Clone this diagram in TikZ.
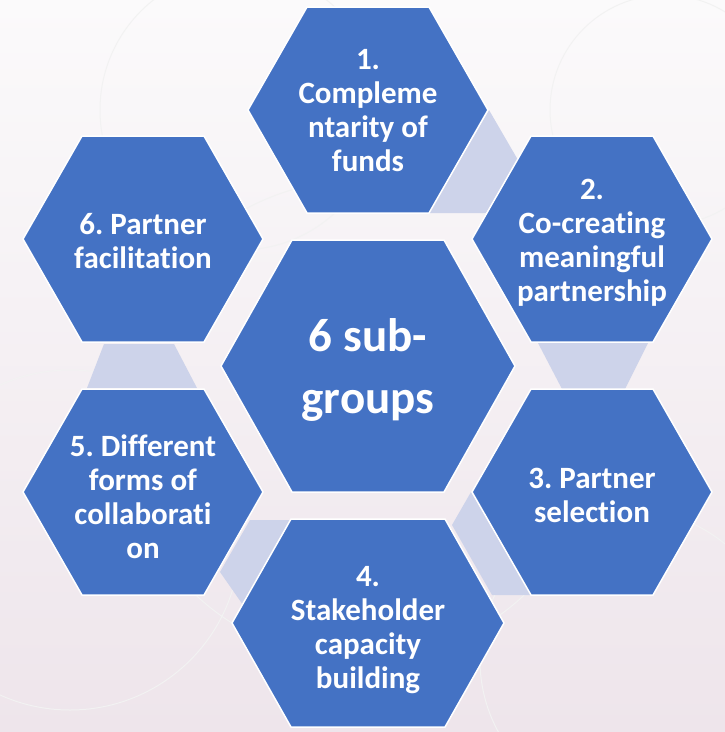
\documentclass[tikz,border=0pt]{standalone}
\usepackage{fontspec}
\setmainfont{Carlito}[RawFeature={-liga;-clig}]
\usepackage{xcolor}
\frenchspacing

\definecolor{hexblue}{HTML}{4472C4}
\definecolor{bridgelav}{HTML}{CDD3EA}
\definecolor{bgtop}{HTML}{FBFAFB}
\definecolor{bgbot}{HTML}{EEE5EB}

\begin{document}
\begin{tikzpicture}[x=1pt, y=-1pt,
    hexa/.style={fill=hexblue, draw=white, line width=1.5pt, line join=miter},
    bridge/.style={fill=bridgelav},
    hextext/.style={text=white, align=center, inner sep=0pt,
      font=\bfseries\fontsize{31}{34}\selectfont},
  ]
      % background
      \shade[top color=bgtop, bottom color=bgbot] (0,0) rectangle (725,732);
      \useasboundingbox (0,0) rectangle (725,732);
      \begin{scope}
        \clip (0,0) rectangle (725,732);
        \draw[black!5, line width=1pt] (240,110) circle (140) (665,110) circle (115)
          (70,540) circle (170) (630,660) circle (150) (360,420) circle (240);
      \end{scope}

      % bridges between the outer hexagons
      \fill[bridge] (489,110) -- (518,160) -- (486,213) -- (429,213) -- cycle;
      \fill[bridge] (538,343) -- (648,343) -- (625,389) -- (562,389) -- cycle;
      \fill[bridge] (471,492) -- (531,595) -- (492,595) -- (452,525) -- cycle;
      \fill[bridge] (250,520) -- (292,520) -- (243,605) -- (220,572) -- cycle;
      \fill[bridge] (104,344) -- (174,344) -- (197,388) -- (87,388) -- cycle;

      % hexagons: centre x / centre y / half width / half top edge / half height
      \foreach \cx/\cy/\w/\t/\h in {368/366/147/76/126, 368/110/120/61/103,
          592/239/120/61/103, 592/492/120/61/103, 368/623/136/77/104,
          143/492/120/61/103, 143/239/120/61/103}
        \draw[hexa] (\cx-\w,\cy) -- (\cx-\t,\cy-\h) -- (\cx+\t,\cy-\h)
          -- (\cx+\w,\cy) -- (\cx+\t,\cy+\h) -- (\cx-\t,\cy+\h) -- cycle;

      \node[hextext, font=\bfseries\fontsize{47}{62}\selectfont] (hc) at (368,370) {6 sub-\\groups};
      \node[hextext] (h1) at (368,111) {1.\\Compleme\\ntarity of\\funds};
      \node[hextext] (h2) at (592,243) {2.\\Co-creating\\meaningful\\partnership};
      \node[hextext] (h3) at (592,495) {3. Partner\\selection};
      \node[hextext] (h4) at (368,630) {4.\\Stakeholder\\capacity\\building};
      \node[hextext] (h5) at (143,497) {5. Different\\forms of\\collaborati\\on};
      \node[hextext] (h6) at (143,241) {6. Partner\\facilitation};
    \end{tikzpicture}
\end{document}
